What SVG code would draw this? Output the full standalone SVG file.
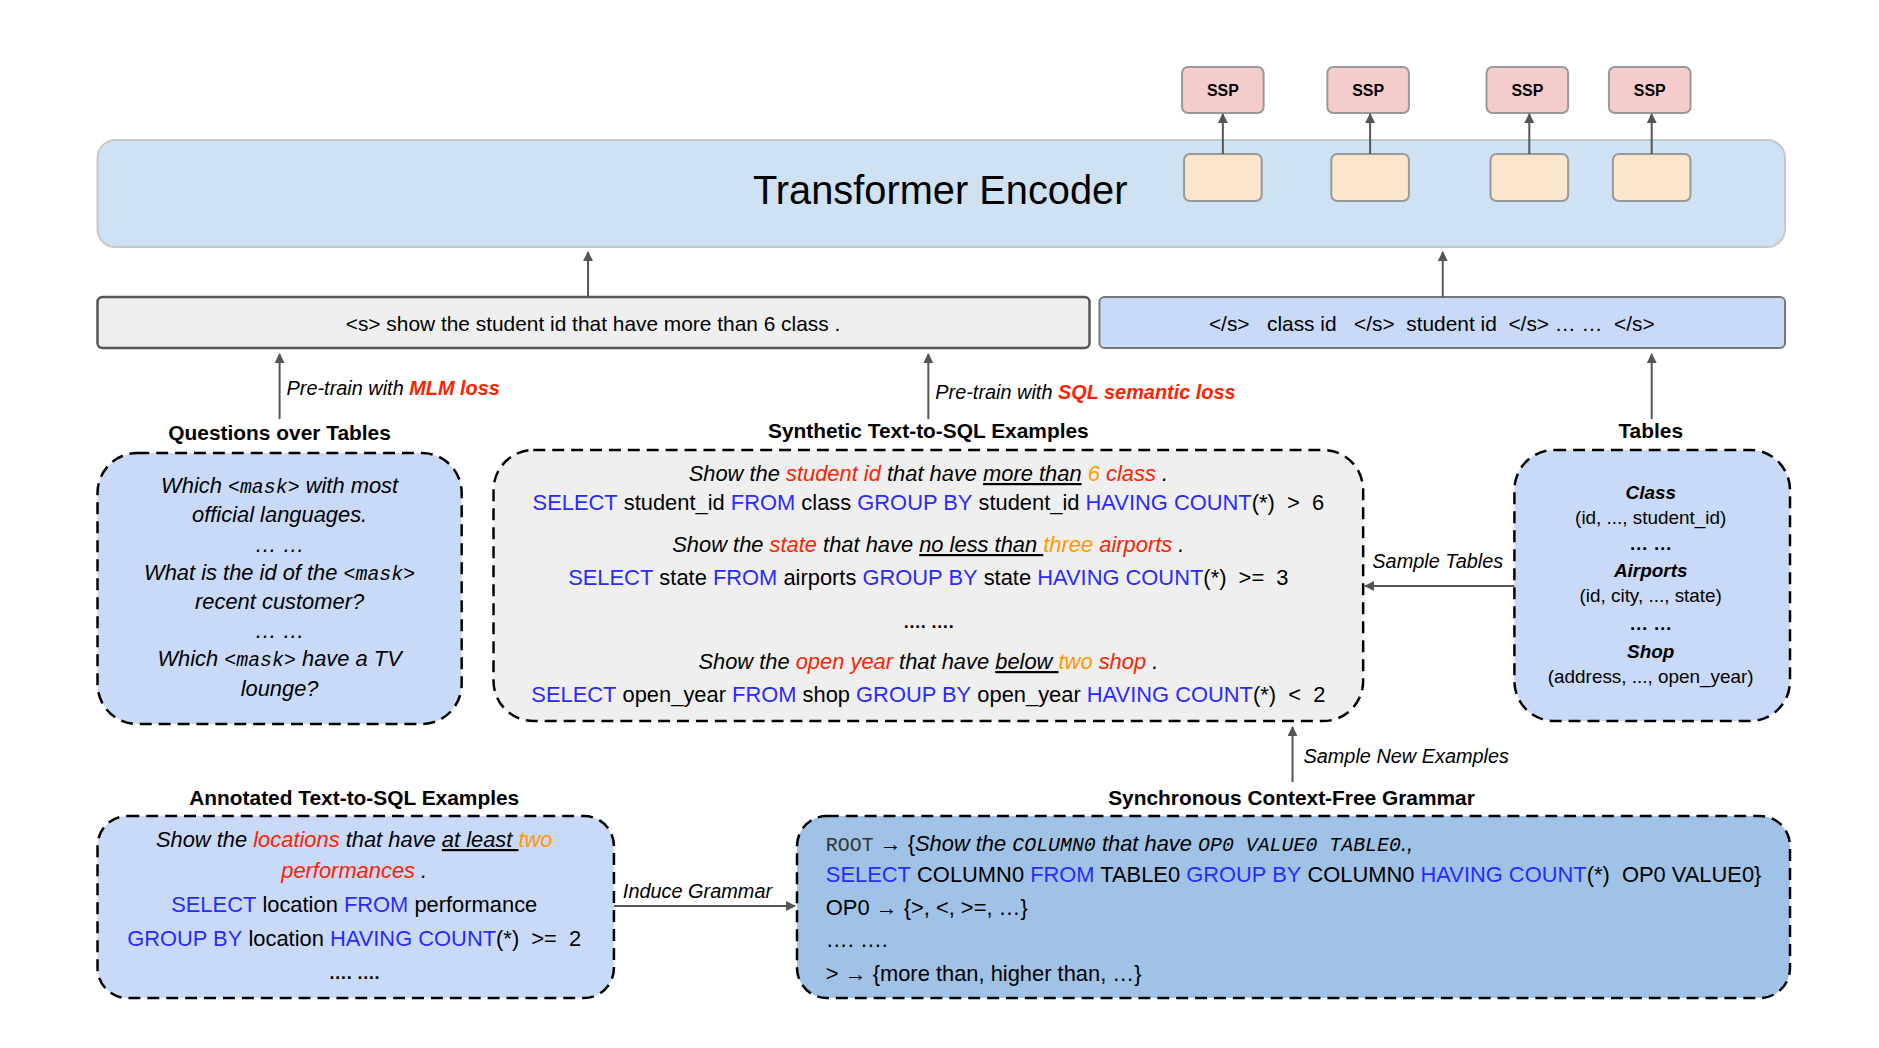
<svg xmlns="http://www.w3.org/2000/svg" width="1879" height="1048" viewBox="0 0 1879 1048">
<style>
text{font-family:"Liberation Sans",Arial,sans-serif;fill:#000;white-space:pre}
.it{font-style:italic}
.b{font-weight:bold}
.r{fill:#ff2200}
.o{fill:#ff9900}
.s{fill:#2a2aff}
.m{font-family:"Liberation Mono",monospace;font-size:20px}
.u{text-decoration:underline}
.dash{stroke:#000;stroke-width:2.5;stroke-dasharray:12,7}
.ln{stroke:#555;stroke-width:2;fill:none;marker-end:url(#ah)}
.t22{font-size:22px}
</style>
<defs>
<marker id="ah" markerWidth="10" markerHeight="10" refX="9" refY="5" orient="auto" markerUnits="userSpaceOnUse"><path d="M0,0 L10,5 L0,10 z" fill="#555"/></marker>
</defs>
<rect width="1879" height="1048" fill="#fff"/>
<g transform="scale(0.995,1)">
<g id="encoder">
<rect x="98" y="140" width="1696" height="107" rx="18" fill="#cfe2f3" stroke="#c8c8c8" stroke-width="2"/>
<text x="945" y="204" font-size="40" text-anchor="middle">Transformer Encoder</text>
<rect x="1190" y="154" width="78" height="47" rx="6" fill="#fce5cd" stroke="#999" stroke-width="2"/>
<rect x="1338" y="154" width="78" height="47" rx="6" fill="#fce5cd" stroke="#999" stroke-width="2"/>
<rect x="1498" y="154" width="78" height="47" rx="6" fill="#fce5cd" stroke="#999" stroke-width="2"/>
<rect x="1621" y="154" width="78" height="47" rx="6" fill="#fce5cd" stroke="#999" stroke-width="2"/>
</g>
<g id="ssp">
<rect x="1188" y="67" width="82" height="46" rx="6" fill="#f4cccc" stroke="#999" stroke-width="2"/>
<rect x="1334" y="67" width="82" height="46" rx="6" fill="#f4cccc" stroke="#999" stroke-width="2"/>
<rect x="1494" y="67" width="82" height="46" rx="6" fill="#f4cccc" stroke="#999" stroke-width="2"/>
<rect x="1617" y="67" width="82" height="46" rx="6" fill="#f4cccc" stroke="#999" stroke-width="2"/>
<text x="1229" y="96" font-size="16" class="b" text-anchor="middle">SSP</text>
<text x="1375" y="96" font-size="16" class="b" text-anchor="middle">SSP</text>
<text x="1535" y="96" font-size="16" class="b" text-anchor="middle">SSP</text>
<text x="1658" y="96" font-size="16" class="b" text-anchor="middle">SSP</text>
</g>
<g id="input-question">
<rect x="98" y="297" width="997" height="51" rx="5" fill="#efefef" stroke="#555" stroke-width="2.5"/>
<text x="596" y="331" font-size="21" text-anchor="middle">&lt;s&gt; show the student id that have more than 6 class .</text>
</g>
<g id="input-table">
<rect x="1105" y="297" width="689" height="51" rx="5" fill="#c9daf8" stroke="#777" stroke-width="2"/>
<text x="1439" y="331" font-size="21" text-anchor="middle">&lt;/s&gt;   class id   &lt;/s&gt;  student id  &lt;/s&gt; … …  &lt;/s&gt;</text>
</g>
<g id="questions">
<text x="281" y="440" font-size="21" class="b" text-anchor="middle">Questions over Tables</text>
<rect x="98" y="453" width="366" height="271" rx="40" fill="#c9daf8" class="dash"/>
<g class="it t22" text-anchor="middle">
<text x="281" y="493">Which <tspan class="m">&lt;mask&gt;</tspan> with most</text>
<text x="281" y="522">official languages.</text>
<text x="281" y="552">… …</text>
<text x="281" y="580">What is the id of the <tspan class="m">&lt;mask&gt;</tspan></text>
<text x="281" y="609">recent customer?</text>
<text x="281" y="638">… …</text>
<text x="281" y="666">Which <tspan class="m">&lt;mask&gt;</tspan> have a TV</text>
<text x="281" y="696">lounge?</text>
</g>
</g>
<g id="synthetic">
<text x="933" y="438" font-size="21" class="b" text-anchor="middle">Synthetic Text-to-SQL Examples</text>
<rect x="496" y="450" width="874" height="271" rx="40" fill="#efefef" class="dash"/>
<g class="t22" text-anchor="middle">
<text x="933" y="481" class="it">Show the <tspan class="r">student id</tspan> that have <tspan class="u">more than</tspan> <tspan class="o">6</tspan> <tspan class="r">class</tspan> .</text>
<text x="933" y="510"><tspan class="s">SELECT</tspan> student_id <tspan class="s">FROM</tspan> class <tspan class="s">GROUP BY</tspan> student_id <tspan class="s">HAVING COUNT</tspan>(*)  &gt;  6</text>
<text x="933" y="552" class="it">Show the <tspan class="r">state</tspan> that have <tspan class="u">no less than </tspan><tspan class="o">three</tspan> <tspan class="r">airports</tspan> .</text>
<text x="933" y="585"><tspan class="s">SELECT</tspan> state <tspan class="s">FROM</tspan> airports <tspan class="s">GROUP BY</tspan> state <tspan class="s">HAVING COUNT</tspan>(*)  &gt;=  3</text>
<text x="933" y="628" class="b" font-size="18">…. ….</text>
<text x="933" y="669" class="it">Show the <tspan class="r">open year</tspan> that have <tspan class="u">below </tspan><tspan class="o">two</tspan> <tspan class="r">shop</tspan> .</text>
<text x="933" y="702"><tspan class="s">SELECT</tspan> open_year <tspan class="s">FROM</tspan> shop <tspan class="s">GROUP BY</tspan> open_year <tspan class="s">HAVING COUNT</tspan>(*)  &lt;  2</text>
</g>
</g>
<g id="tables">
<text x="1659" y="438" font-size="21" class="b" text-anchor="middle">Tables</text>
<rect x="1522" y="450" width="277" height="271" rx="40" fill="#c9daf8" class="dash"/>
<g font-size="19" text-anchor="middle">
<text x="1659" y="499" class="b it">Class</text>
<text x="1659" y="524">(id, ..., student_id)</text>
<text x="1659" y="550" class="b">… …</text>
<text x="1659" y="577" class="b it">Airports</text>
<text x="1659" y="602">(id, city, ..., state)</text>
<text x="1659" y="630" class="b">… …</text>
<text x="1659" y="658" class="b it">Shop</text>
<text x="1659" y="683">(address, ..., open_year)</text>
</g>
</g>
<g id="annotated">
<text x="356" y="805" font-size="21" class="b" text-anchor="middle">Annotated Text-to-SQL Examples</text>
<rect x="98" y="816" width="519" height="182" rx="30" fill="#c9daf8" class="dash"/>
<g class="t22" text-anchor="middle">
<text x="356" y="847" class="it">Show the <tspan class="r">locations</tspan> that have <tspan class="u">at least </tspan><tspan class="o">two</tspan></text>
<text x="356" y="878" class="it"><tspan class="r">performances</tspan> .</text>
<text x="356" y="912"><tspan class="s">SELECT</tspan> location <tspan class="s">FROM</tspan> performance</text>
<text x="356" y="946"><tspan class="s">GROUP BY</tspan> location <tspan class="s">HAVING COUNT</tspan>(*)  &gt;=  2</text>
<text x="356" y="979" class="b" font-size="18">…. ….</text>
</g>
</g>
<g id="grammar">
<text x="1298" y="805" font-size="21" class="b" text-anchor="middle">Synchronous Context-Free Grammar</text>
<rect x="801" y="816" width="998" height="182" rx="30" fill="#9fc2e6" class="dash"/>
<g class="t22">
<text x="830" y="851"><tspan class="m" fill="#333">ROOT</tspan> → {<tspan class="it">Show the </tspan><tspan class="m it">COLUMN0</tspan><tspan class="it"> that have </tspan><tspan class="m it">OP0 VALUE0 TABLE0</tspan><tspan class="it">.,</tspan></text>
<text x="830" y="882"><tspan class="s">SELECT</tspan> COLUMN0 <tspan class="s">FROM</tspan> TABLE0 <tspan class="s">GROUP BY</tspan> COLUMN0 <tspan class="s">HAVING COUNT</tspan>(*)  OP0 VALUE0}</text>
<text x="830" y="915">OP0 → {&gt;, &lt;, &gt;=, …}</text>
<text x="830" y="947">…. ….</text>
<text x="830" y="981">&gt; → {more than, higher than, …}</text>
</g>
</g>
<g id="connectors">
<path class="ln" d="M1229 154 V114"/>
<path class="ln" d="M1377 154 V114"/>
<path class="ln" d="M1537 154 V114"/>
<path class="ln" d="M1660 154 V114"/>
<path class="ln" d="M591 297 V252"/>
<path class="ln" d="M1450 297 V252"/>
<path class="ln" d="M281 419 V354"/>
<path class="ln" d="M933 419 V354"/>
<path class="ln" d="M1660 419 V354"/>
<path class="ln" d="M1522 586 H1372"/>
<path class="ln" d="M1299 782 V727"/>
<path class="ln" d="M617 906 H799"/>
<text x="288" y="395" font-size="20" class="it">Pre-train with <tspan class="r b">MLM loss</tspan></text>
<text x="940" y="399" font-size="20" class="it">Pre-train with <tspan class="r b">SQL semantic loss</tspan></text>
<text x="1445" y="568" font-size="20" class="it" text-anchor="middle">Sample Tables</text>
<text x="1310" y="763" font-size="20" class="it">Sample New Examples</text>
<text x="701" y="898" font-size="20" class="it" text-anchor="middle">Induce Grammar</text>
</g>
</g>
</svg>
